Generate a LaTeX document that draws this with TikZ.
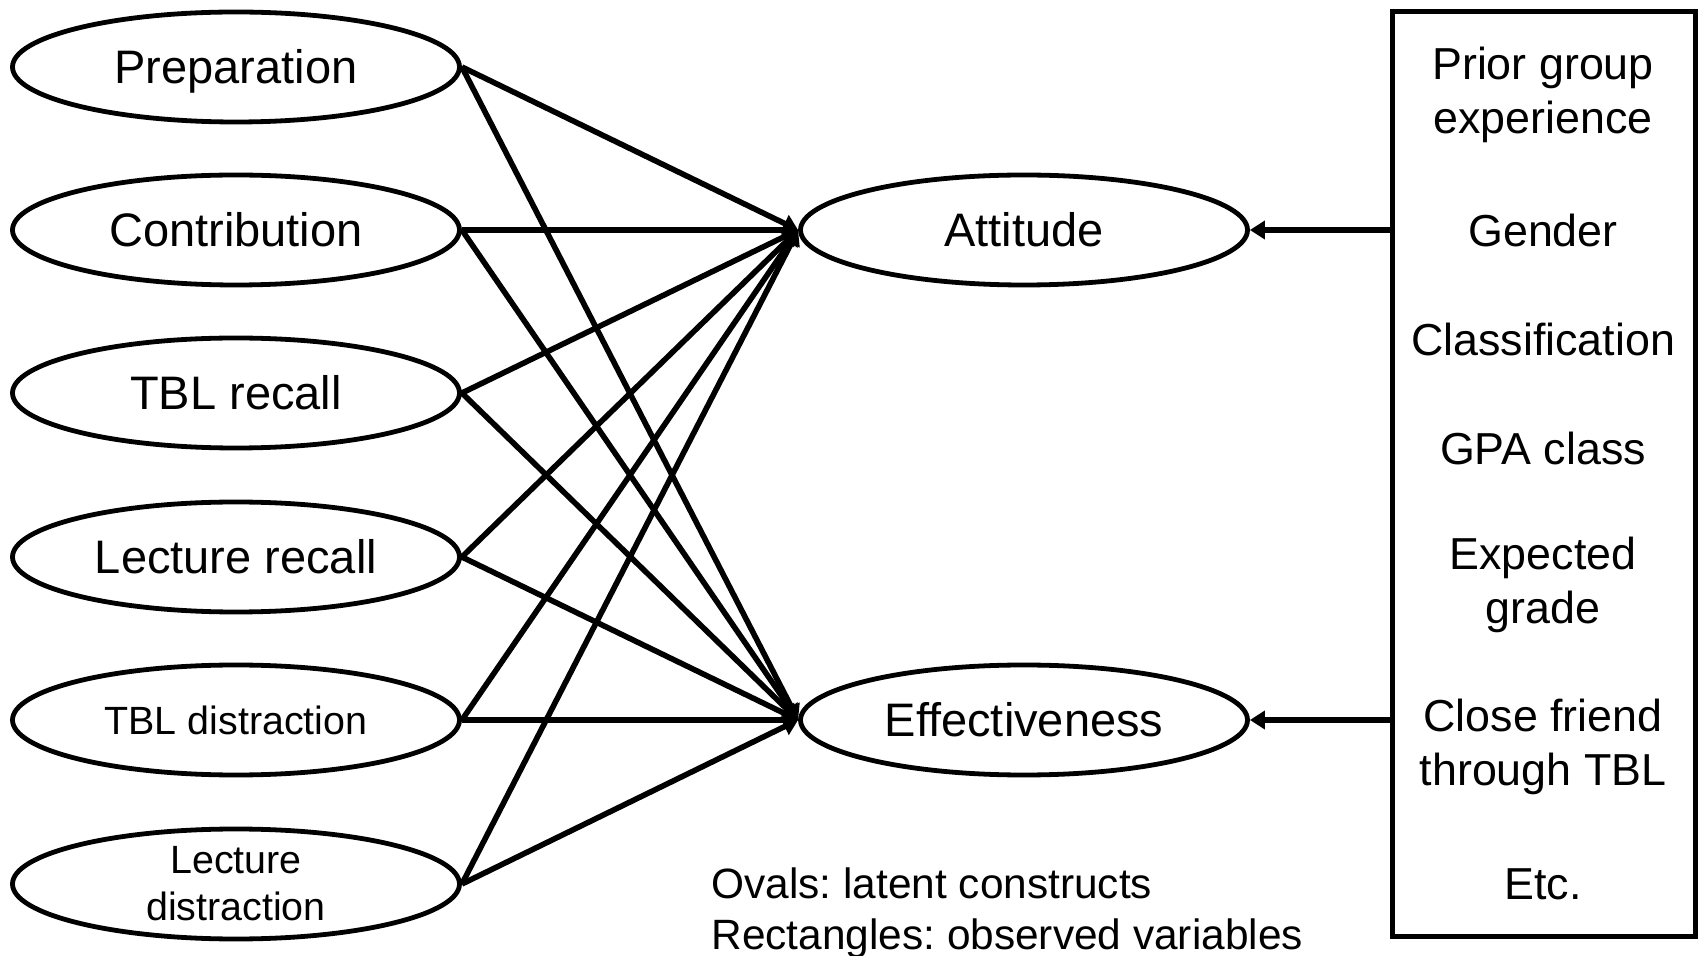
\documentclass[tikz,border=0pt]{standalone}
\usepackage{fontspec}
\setmainfont{Liberation Sans}
\usetikzlibrary{arrows.meta,shapes.geometric}
\frenchspacing
\begin{document}
\begin{tikzpicture}[x=0.5pt,y=-0.5pt,
  oval/.style={ellipse, draw, line width=2.4pt, minimum width=223.5pt, minimum height=55pt, inner sep=0pt, align=center},
  bigtext/.style={font=\fontsize{23.5}{27}\selectfont, text height=16.8pt, text depth=0pt},
  smalltext/.style={font=\fontsize{19.7}{23.5}\selectfont},
  boxtext/.style={font=\fontsize{22.4}{27}\selectfont, align=center, inner sep=0pt},
  oneline/.style={text height=16pt, text depth=0pt},
  arr/.style={line width=2.8pt, -{Triangle[length=7.5pt,width=9pt]}},
  legend/.style={font=\fontsize{21.2}{25.5}\selectfont, anchor=base west, inner sep=0pt}]
\useasboundingbox (0,0) rectangle (1703,956);
% left latent constructs
\node[oval, bigtext] (prep) at (236,67) {Preparation};
\node[oval, bigtext] (contr) at (236,230) {Contribution};
\node[oval, bigtext] (tblr) at (236,393) {TBL recall};
\node[oval, bigtext] (lecr) at (236,557) {Lecture recall};
\node[oval, smalltext, text height=14.1pt, text depth=0pt] (tbld) at (236,720) {TBL distraction};
\node[oval, smalltext] (lecd) at (236,884) {Lecture\\distraction};
% outcomes
\node[oval, bigtext] (att) at (1024,230) {Attitude};
\node[oval, bigtext] (eff) at (1024,720) {Effectiveness};
% observed variables box
\node[draw, line width=2.6pt, minimum width=151.4pt, minimum height=462.4pt, inner sep=0pt] (box) at (1544,474) {};
\node[boxtext] (v1) at (1543,95) {Prior group\\experience};
\node[boxtext, oneline] (v2) at (1543,231) {Gender};
\node[boxtext, oneline] (v3) at (1543,340) {Classification};
\node[boxtext, oneline] (v4) at (1543,449) {GPA class};
\node[boxtext] (v5) at (1543,585) {Expected\\grade};
\node[boxtext] (v6) at (1543,747) {Close friend\\through TBL};
\node[boxtext, oneline] (v7) at (1543,883) {Etc.};
% arrows
\foreach \n in {prep,contr,tblr,lecr,tbld,lecd}{
  \draw[arr] (\n.east) -- (att.west);
  \draw[arr] (\n.east) -- (eff.west);
}
\draw[arr] (att.east -| box.west) -- (att.east);
\draw[arr] (eff.east -| box.west) -- (eff.east);
% legend
\node[legend] (l1) at (711,898) {Ovals: latent constructs};
\node[legend] (l2) at (711,949) {Rectangles: observed variables};
\end{tikzpicture}
\end{document}
